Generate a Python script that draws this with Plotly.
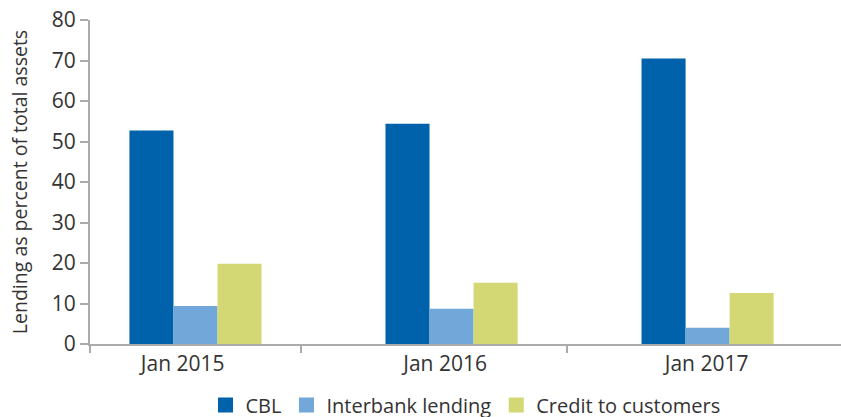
import plotly.graph_objects as go

# Lending composition, share of total assets
periods = ["Jan 2015", "Jan 2016", "Jan 2017"]
cbl = [52.7, 54.4, 70.5]
interbank = [9.4, 8.7, 4.0]
credit = [19.8, 15.1, 12.6]

series_names = ["CBL", "Interbank lending", "Credit to customers"]
series_colors = ["#0062AB", "#72A7D9", "#D3D874"]
positions = list(range(len(periods)))

# period labels sit slightly left of each bar group; separators between groups
label_pos = [-0.05, 0.975, 1.996]
separator_pos = [-0.412, 0.412, 1.451]
x_range = [-0.412, 2.521]

fig = go.Figure()
for name, vals, col in zip(series_names, [cbl, interbank, credit], series_colors):
    fig.add_trace(go.Bar(x=positions, y=vals, name=name, showlegend=False,
                         marker=dict(color=col, line=dict(width=0))))

# legend entries with larger square swatches
for name, col in zip(series_names, series_colors):
    fig.add_trace(go.Scatter(x=[None], y=[None], mode="markers", name=name,
                             marker=dict(symbol="square", size=15, color=col),
                             hoverinfo="skip"))

# invisible trace carrying the secondary x axis used for the separator ticks
fig.add_trace(go.Scatter(x=x_range, y=[0, 0], xaxis="x2", mode="lines",
                         line=dict(width=0), showlegend=False, hoverinfo="skip"))

font_family = "Open Sans, Noto Sans, sans-serif"
axis_grey = "#ABABAB"
text_col = "#333333"

fig.update_layout(
    width=841, height=417,
    margin=dict(l=90, r=0, t=20, b=73, autoexpand=False),
    paper_bgcolor="white", plot_bgcolor="white",
    barmode="group", bargap=0.484, bargroupgap=0,
    font=dict(family=font_family, size=20, color=text_col),
    xaxis=dict(
        range=x_range, tickmode="array", tickvals=label_pos, ticktext=periods,
        ticks="", showline=True, linecolor=axis_grey, linewidth=2, showgrid=False,
        zeroline=False, tickfont=dict(size=21, color=text_col),
    ),
    xaxis2=dict(
        overlaying="x", range=x_range, tickmode="array",
        tickvals=separator_pos, showticklabels=False,
        ticks="outside", ticklen=8, tickwidth=2, tickcolor=axis_grey,
        showline=False, showgrid=False, zeroline=False,
    ),
    yaxis=dict(
        range=[0, 80], dtick=10, ticks="outside", ticklen=8, tickwidth=1.5,
        tickcolor=axis_grey, showline=True, linecolor=axis_grey, linewidth=2,
        showgrid=False, zeroline=False, tickfont=dict(size=21, color=text_col),
        title=dict(text="Lending as percent of total assets", font=dict(size=19.5, color=text_col), standoff=19),
    ),
    legend=dict(
        orientation="h", x=0.5, xanchor="center", y=-0.128, yanchor="top",
        font=dict(size=20, color=text_col), traceorder="normal",
        itemwidth=30, tracegroupgap=0,
    ),
)

fig.write_html("out.html")
